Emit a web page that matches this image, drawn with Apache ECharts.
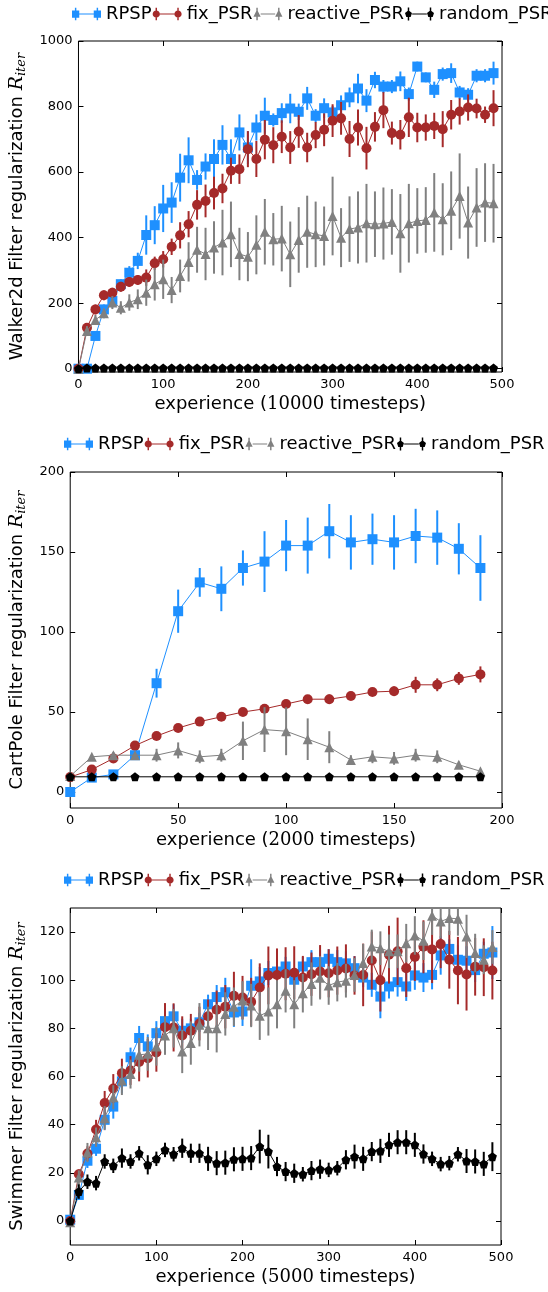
<!DOCTYPE html>
<html>
<head>
<meta charset="utf-8">
<script src="https://cdn.jsdelivr.net/npm/echarts@6/dist/echarts.min.js"></script>
<style>
html, body { margin: 0; padding: 0; background: #fff; }
#main { width: 548px; height: 1292px; }
</style>
</head>
<body>
<div id="main"></div>
<script>
// ---- Walker2d (10000 timesteps) ----
var walkerSteps = [0,10,20,30,40,50,60,70,80,90,100,110,120,130,140,150,160,170,180,190,200,210,220,230,240,250,260,270,280,290,300,310,320,330,340,350,360,370,380,390,400,410,420,430,440,450,460,470,480,490];
var walkerRPSP = [0,0,100,181,207,258,293,329,408,438,489,507,583,636,576,617,640,683,640,721,675,736,772,759,780,794,784,825,772,795,782,804,828,855,818,881,861,861,877,838,922,889,851,899,902,843,836,894,894,902];
var walkerRPSPErr = [0,0,10,15,20,15,20,25,60,58,72,62,73,70,30,40,60,60,60,55,50,40,55,20,30,45,25,35,20,30,20,30,30,45,35,25,20,20,30,20,15,15,25,20,30,20,20,20,20,35];
var walkerFix = [0,125,181,224,232,250,265,271,278,322,334,372,407,441,500,512,536,550,604,609,670,640,699,682,708,675,724,675,713,729,757,764,701,736,673,738,789,719,714,767,736,736,741,731,775,785,797,794,775,795];
var walkerFixErr = [0,10,15,15,15,15,15,15,25,20,25,25,40,40,45,50,50,45,40,45,55,55,60,55,50,50,50,45,40,50,50,50,55,55,65,45,55,35,45,60,45,40,40,55,45,40,40,30,25,55];
var walkerReact = [0,115,149,169,202,186,202,212,232,258,273,240,283,326,363,350,370,385,410,350,342,378,418,395,397,349,393,418,410,405,466,400,426,431,444,441,443,448,413,444,451,454,477,456,482,527,446,492,507,505];
var walkerReactErr = [0,15,15,15,20,20,25,30,40,50,60,40,50,60,70,80,80,100,100,80,75,90,100,80,100,100,100,110,100,90,120,90,100,110,120,100,110,100,120,120,100,100,120,110,120,130,110,120,120,120];
var walkerRandom = [0,2,2,2,2,2,2,2,2,2,2,2,2,2,2,2,2,2,2,2,2,2,2,2,2,2,2,2,2,2,2,2,2,2,2,2,2,2,2,2,2,2,2,2,2,2,2,2,2,2];
var walkerRandomErr = [0,3,3,3,3,3,3,3,3,3,3,3,3,3,3,3,3,3,3,3,3,3,3,3,3,3,3,3,3,3,3,3,3,3,3,3,3,3,3,3,3,3,3,3,3,3,3,3,3,3];
var walkerYTicks = [0,200,400,600,800,1000];

// ---- CartPole (2000 timesteps) ----
var cartSteps = [0,10,20,30,40,50,60,70,80,90,100,110,120,130,140,150,160,170,180,190];
var cartRPSP = [0,9,11,23,68,113,131,127,140,144,154,154,163,156,158,156,160,159,152,140];
var cartRPSPErr = [0,1,1,2,9,13.5,9,14,11,19,16,17.5,17,17,16,17,17,17,16,20.5];
var cartFix = [9.3,14,21,29,35,40,44,47,50,52,55,58,58,60,62.5,63,67,67,71,73.5];
var cartFixErr = [1,1,1,1,1,1,1,1,1,1,1,2,3,2,2,3,5,4,4,5];
var cartReact = [10,22,23,23,23,26,22,23,32,39,38,33,28,20,22,21,23,22,17,13];
var cartReactErr = [1,1,2,2,4,5,4,4,12,14,15,13,10,3,4,4,4,4,2,1];
var cartRandom = [9.5,9.5,9.5,9.5,9.5,9.5,9.5,9.5,9.5,9.5,9.5,9.5,9.5,9.5,9.5,9.5,9.5,9.5,9.5,9.5];
var cartRandomErr = [1,1,1,1,1,1,1,1,1,1,1,1,1,1,1,1,1,1,1,1];
var cartYTicks = [0,50,100,150,200];

// ---- Swimmer (5000 timesteps) ----
var swimSteps = [0,10,20,30,40,50,60,70,80,90,100,110,120,130,140,150,160,170,180,190,200,210,220,230,240,250,260,270,280,290,300,310,320,330,340,350,360,370,380,390,400,410,420,430,440,450,460,470,480,490];
var swimRPSP = [0.5,10.8,25,30,42,47.5,58,68,76,72.5,78,83,85,79,80,82.5,90,93,95,86.6,87,97.7,99.5,103,103.6,105.7,100.2,105.7,107.5,107.5,108.9,107.5,107,105,101.1,98.1,93.2,97.4,99.2,97.4,102,101.1,102.2,110.3,113,108.5,108.1,104.2,111,111.5];
var swimRPSPErr = [1,2,3,3,4,5,5,4,5,5,5,5,5,5,4,4,4,5,6,6,6,11,6,5,5,4,4,4,5,5,4,5,5,5,4,5,9,5,6,6,6,6,6,8,4,6,6,5,5,11];
var swimFix = [0,19.4,28,38,49,55,61.4,62.5,66,67.6,70,80.5,80.4,77,79,82,85,87.7,89,93.5,92.8,91,97,102,102.2,102.7,103.1,101.1,102.5,103.6,102.9,104,104.9,102,102.2,108.2,100,110.6,112,105,109.7,113.9,112.8,115,108.5,104,102.4,105.6,105.4,104];
var swimFixErr = [1,2,3,4,5,6,6,6,8,8,8,10,10,8,7,7,7,8,9,10,9,10,10,12,11,11,11,9,9,11,10,10,10,8,13,12,13,12,14,12,10,11,14,10,12,14,15,12,12,12];
var swimReact = [-0.5,18,28.4,34.8,42.7,51.4,58.3,61,69,69.4,72.5,77,80,70.4,73.9,81.5,80,80,86,89,91.6,89.5,85.2,87,90,95.6,90,94.6,98.4,101,97.8,99.2,99.8,102.2,107.1,114,113.3,112,112,115.4,118.6,116.4,126.8,124.4,125.8,125.5,118.2,111.3,108.5,113.8];
var swimReactErr = [1,3,4,4,5,5,6,6,7,7,8,8,8,9,9,9,9,10,9,8,8,9,10,10,10,9,10,8,9,9,8,8,7,7,8,7,7,7,7,8,8,8,8,7,7,7,9,8,6,7];
var swimRandom = [0,12.2,16.3,15.7,24.7,22.9,26.1,24.7,28.1,23.3,25.8,29.5,27.7,30.2,28.1,28.1,25.8,24,24.2,25.6,25.8,26.1,30.9,28.8,22.6,20.5,19.8,19.4,20.9,21.5,21.2,21.9,25.4,26.7,25.8,28.8,29.1,31.6,32.7,32.7,31.6,27.8,25.8,23.6,24,27.7,24.9,24.7,23.7,26.7];
var swimRandomErr = [1,3,3,3,3,3,4,3,3,4,3,3,3,4,4,4,5,5,5,5,5,5,7,7,4,4,4,3,4,4,3,3,4,5,5,4,5,5,5,5,5,4,3,3,3,3,5,5,5,6];
var swimYTicks = [0,20,40,60,80,100,120];

var names = ['RPSP', 'fix_PSR', 'reactive_PSR', 'random_PSR'];
var colors = ['#1e90ff', '#a52a2a', '#808080', '#000000'];
var pentagon = 'path://M0,-10L9.5,-3.1L5.9,8.1L-5.9,8.1L-9.5,-3.1Z';
var symbols = ['rect', 'circle', 'triangle', pentagon];
var symbolSizes = [10, 10, 10, 9];

// legend keys drawn like matplotlib: marker - line - marker, with the error bar through each marker
var bar = ' M8,6.5H24V7.5H8Z M3.2,0H4.8V14H3.2Z M27.2,0H28.8V14H27.2Z';
var legendIcons = [
    'path://M0,3H8V11H0Z M24,3H32V11H24Z' + bar,
    'path://M4,3C6.2,3 8,4.8 8,7C8,9.2 6.2,11 4,11C1.8,11 0,9.2 0,7C0,4.8 1.8,3 4,3Z M28,3C30.2,3 32,4.8 32,7C32,9.2 30.2,11 28,11C25.8,11 24,9.2 24,7C24,4.8 25.8,3 28,3Z' + bar,
    'path://M4,2L8,10H0Z M28,2L32,10H24Z' + bar,
    'path://M4,3L7.8,5.8L6.4,10.2H1.6L0.2,5.8Z M28,3L31.8,5.8L30.4,10.2H25.6L24.2,5.8Z' + bar
];

var panels = [
    {
        env: 'Walker2d', unit: '10000', steps: walkerSteps,
        values: [walkerRPSP, walkerFix, walkerReact, walkerRandom],
        errors: [walkerRPSPErr, walkerFixErr, walkerReactErr, walkerRandomErr],
        yMin: -10, yMax: 1000, yTicks: walkerYTicks, xMax: 500, xStep: 100,
        grid: {left: 75, right: 46, top: 41, height: 331},
        legend: {left: 72, top: 5}, yGap: 39
    },
    {
        env: 'CartPole', unit: '2000', steps: cartSteps,
        values: [cartRPSP, cartFix, cartReact, cartRandom],
        errors: [cartRPSPErr, cartFixErr, cartReactErr, cartRandomErr],
        yMin: -10, yMax: 200, yTicks: cartYTicks, xMax: 200, xStep: 50,
        grid: {left: 67, right: 46, top: 472, height: 336},
        legend: {left: 64, top: 435}, yGap: 32
    },
    {
        env: 'Swimmer', unit: '5000', steps: swimSteps,
        values: [swimRPSP, swimFix, swimReact, swimRandom],
        errors: [swimRPSPErr, swimFixErr, swimReactErr, swimRandomErr],
        yMin: -10, yMax: 130, yTicks: swimYTicks, xMax: 500, xStep: 100,
        grid: {left: 67, right: 47, top: 908, height: 337},
        legend: {left: 64, top: 871}, yGap: 32
    }
];

function errorBar(params, api) {
    var lo = api.coord([api.value(0), api.value(1)]);
    var hi = api.coord([api.value(0), api.value(2)]);
    return {
        type: 'line',
        shape: {x1: lo[0], y1: lo[1], x2: hi[0], y2: hi[1]},
        style: {stroke: api.visual('color'), lineWidth: 2}
    };
}

var tickStyle = {inside: true, length: 5, lineStyle: {color: '#000'}};
var noLine = {show: false, onZero: false};
var legendData = [];
for (var k = 0; k < names.length; k++) {
    legendData.push({name: names[k], icon: legendIcons[k]});
}
var grids = [], xAxes = [], yAxes = [], legends = [], lines = [], bars = [];

for (var p = 0; p < panels.length; p++) {
    var pn = panels[p];
    var g = pn.grid;
    grids.push({left: g.left, right: g.right, top: g.top, height: g.height, show: true,
        borderColor: '#000', borderWidth: 1, containLabel: false});
    legends.push({
        data: legendData, left: pn.legend.left, top: pn.legend.top, padding: 0, width: 520,
        itemWidth: 29, itemHeight: 13, itemGap: 1,
        textStyle: {fontSize: 18, color: '#000'}
    });
    // bottom + top x axes
    xAxes.push({
        type: 'value', gridIndex: p, min: 0, max: pn.xMax, interval: pn.xStep,
        axisLine: noLine, axisTick: tickStyle, splitLine: {show: false},
        axisLabel: {color: '#000', fontSize: 13, margin: 6},
        name: 'experience ({n|' + pn.unit + '} timesteps)', nameLocation: 'middle', nameGap: 23,
        nameTextStyle: {fontSize: 18, color: '#000', verticalAlign: 'top',
            rich: {n: {fontFamily: 'DejaVu Serif', fontSize: 18, color: '#000'}}}
    });
    xAxes.push({
        type: 'value', gridIndex: p, position: 'top', min: 0, max: pn.xMax, interval: pn.xStep,
        axisLine: noLine, axisTick: tickStyle, axisLabel: {show: false}, splitLine: {show: false}
    });
    // left + right y axes
    yAxes.push({
        type: 'value', gridIndex: p, min: pn.yMin, max: pn.yMax,
        axisLine: noLine, splitLine: {show: false},
        axisTick: {inside: true, length: 5, lineStyle: {color: '#000'}, customValues: pn.yTicks},
        axisLabel: {color: '#000', fontSize: 13, margin: 6, customValues: pn.yTicks,
            formatter: function(val) { return String(val); }},
        name: pn.env + ' Filter regularization {r|R}{s|iter}', nameLocation: 'middle', nameGap: pn.yGap,
        nameTextStyle: {fontSize: 18, color: '#000',
            rich: {
                r: {fontFamily: 'DejaVu Serif', fontStyle: 'italic', fontSize: 19, color: '#000'},
                s: {fontFamily: 'DejaVu Serif', fontStyle: 'italic', fontSize: 13, color: '#000', padding: [9, 0, 0, 0]}
            }}
    });
    yAxes.push({
        type: 'value', gridIndex: p, position: 'right', min: pn.yMin, max: pn.yMax,
        axisLine: noLine, splitLine: {show: false},
        axisTick: {inside: true, length: 5, lineStyle: {color: '#000'}, customValues: pn.yTicks},
        axisLabel: {show: false}
    });

    for (var s = 0; s < names.length; s++) {
        var pts = [], errs = [];
        for (var i = 0; i < pn.steps.length; i++) {
            var v = pn.values[s][i], e = pn.errors[s][i];
            pts.push([pn.steps[i], v]);
            errs.push([pn.steps[i], v - e, v + e]);
        }
        lines.push({
            name: names[s], type: 'line', xAxisIndex: p * 2, yAxisIndex: p * 2,
            data: pts, symbol: symbols[s], symbolSize: symbolSizes[s],
            showAllSymbol: true, animation: false, z: 11 + s * 2,
            lineStyle: {color: colors[s], width: 1},
            itemStyle: {color: colors[s], opacity: 1}
        });
        bars.push({
            name: names[s], type: 'custom', xAxisIndex: p * 2, yAxisIndex: p * 2,
            data: errs, renderItem: errorBar, clip: true, animation: false, z: 10 + s * 2,
            itemStyle: {color: colors[s]}, encode: {x: 0, y: [1, 2]}
        });
    }
}

var chart = echarts.init(document.getElementById('main'));
chart.setOption({
    backgroundColor: '#fff',
    textStyle: {fontFamily: 'DejaVu Sans'},
    animation: false,
    legend: legends,
    grid: grids,
    xAxis: xAxes,
    yAxis: yAxes,
    series: lines.concat(bars)
});
</script>
</body>
</html>
